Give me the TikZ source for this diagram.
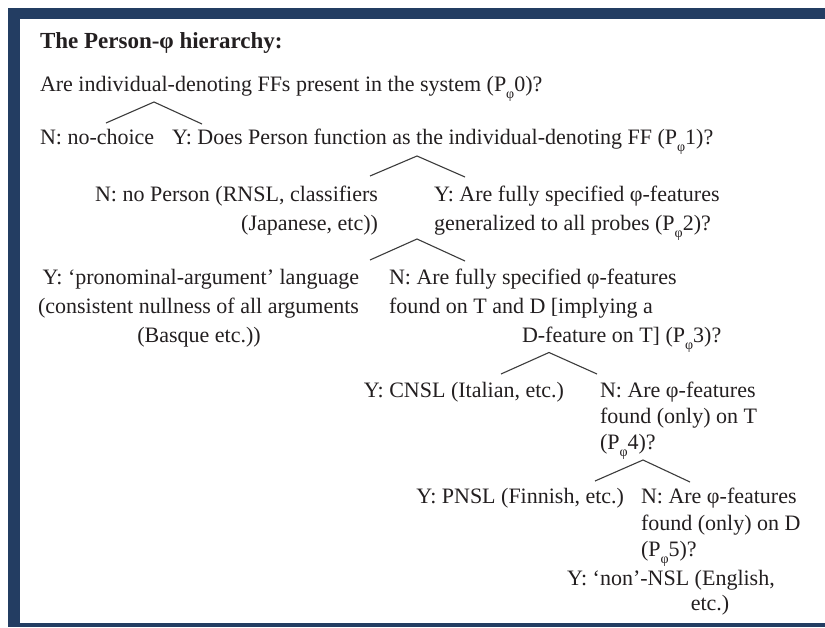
\documentclass[tikz,border=0pt]{standalone}
\usepackage{fontspec}
\setmainfont{Liberation Serif}
\definecolor{navy}{HTML}{233D62}
\definecolor{ink}{HTML}{231F20}
\definecolor{branch}{HTML}{3C3C3C}
\newcommand\Pphi[1]{P\raisebox{-0.34em}{\fontsize{14}{14}\selectfont φ}#1}
\begin{document}
\begin{tikzpicture}[x=1pt,y=-1pt,
  lbl/.style={inner sep=0pt, outer sep=0pt, font=\fontsize{22}{26}\selectfont, text=ink},
  lw/.style={lbl, anchor=base west},
  le/.style={lbl, anchor=base east},
  lc/.style={lbl, anchor=base},
  branchline/.style={draw=branch, line width=1.1pt}]
\useasboundingbox (0,0) rectangle (825,627);
\fill[white] (0,0) rectangle (825,627);
% frame
\fill[navy] (8,8) rectangle (825,19);
\fill[navy] (8,8) rectangle (20,627);
\fill[navy] (8,623) rectangle (825,627);
% texts
\node[lw, font=\fontsize{23}{27}\selectfont\bfseries] (title) at (40,48) {The Person-φ hierarchy:};
\node[lw] (q0) at (40,91) {Are individual-denoting FFs present in the system (\Pphi{0})?};
\node[lw] (n0) at (40,144) {N: no-choice};
\node[lw] (q1) at (172,144) {Y: Does Person function as the individual-denoting FF (\Pphi{1})?};
\node[le] (n1a) at (378,201) {N: no Person (RNSL, classifiers};
\node[le] (n1b) at (378,230) {(Japanese, etc))};
\node[lw] (q2a) at (434,201) {Y: Are fully specified φ-features};
\node[lw] (q2b) at (434,230) {generalized to all probes (\Pphi{2})?};
\node[le] (y2a) at (359,284) {Y: ‘pronominal-argument’ language};
\node[le] (y2b) at (359,313) {(consistent nullness of all arguments};
\node[lc] (y2c) at (199,342) {(Basque etc.))};
\node[lw] (q3a) at (389,284) {N: Are fully specified φ-features};
\node[lw] (q3b) at (389,313) {found on T and D [implying a};
\node[lw] (q3c) at (522,342) {D-feature on T] (\Pphi{3})?};
\node[le] (y3) at (564,397) {Y: CNSL (Italian, etc.)};
\node[lw] (q4a) at (600,397) {N: Are φ-features};
\node[lw] (q4b) at (600,423) {found (only) on T};
\node[lw] (q4c) at (600,449) {(\Pphi{4})?};
\node[le] (y4) at (624,503) {Y: PNSL (Finnish, etc.)};
\node[lw] (q5a) at (641,503) {N: Are φ-features};
\node[lw] (q5b) at (641,530) {found (only) on D};
\node[lw] (q5c) at (641,556) {(\Pphi{5})?};
\node[lc] (y5a) at (671,585) {Y: ‘non’-NSL (English,};
\node[lc] (y5b) at (710,610) {etc.)};
% branches
\coordinate (a0) at (154,102); \coordinate (l0) at (106,123); \coordinate (r0) at (202,124);
\coordinate (a1) at (417,156); \coordinate (l1) at (370,176); \coordinate (r1) at (465,177);
\coordinate (a2) at (417,239); \coordinate (l2) at (370,260); \coordinate (r2) at (465,261);
\coordinate (a3) at (549,352.5); \coordinate (l3) at (501,374); \coordinate (r3) at (597,374);
\coordinate (a4) at (643,460); \coordinate (l4) at (595,481); \coordinate (r4) at (690,482);
\draw[branchline] (l0) -- (a0) -- (r0);
\draw[branchline] (l1) -- (a1) -- (r1);
\draw[branchline] (l2) -- (a2) -- (r2);
\draw[branchline] (l3) -- (a3) -- (r3);
\draw[branchline] (l4) -- (a4) -- (r4);
\end{tikzpicture}
\end{document}
